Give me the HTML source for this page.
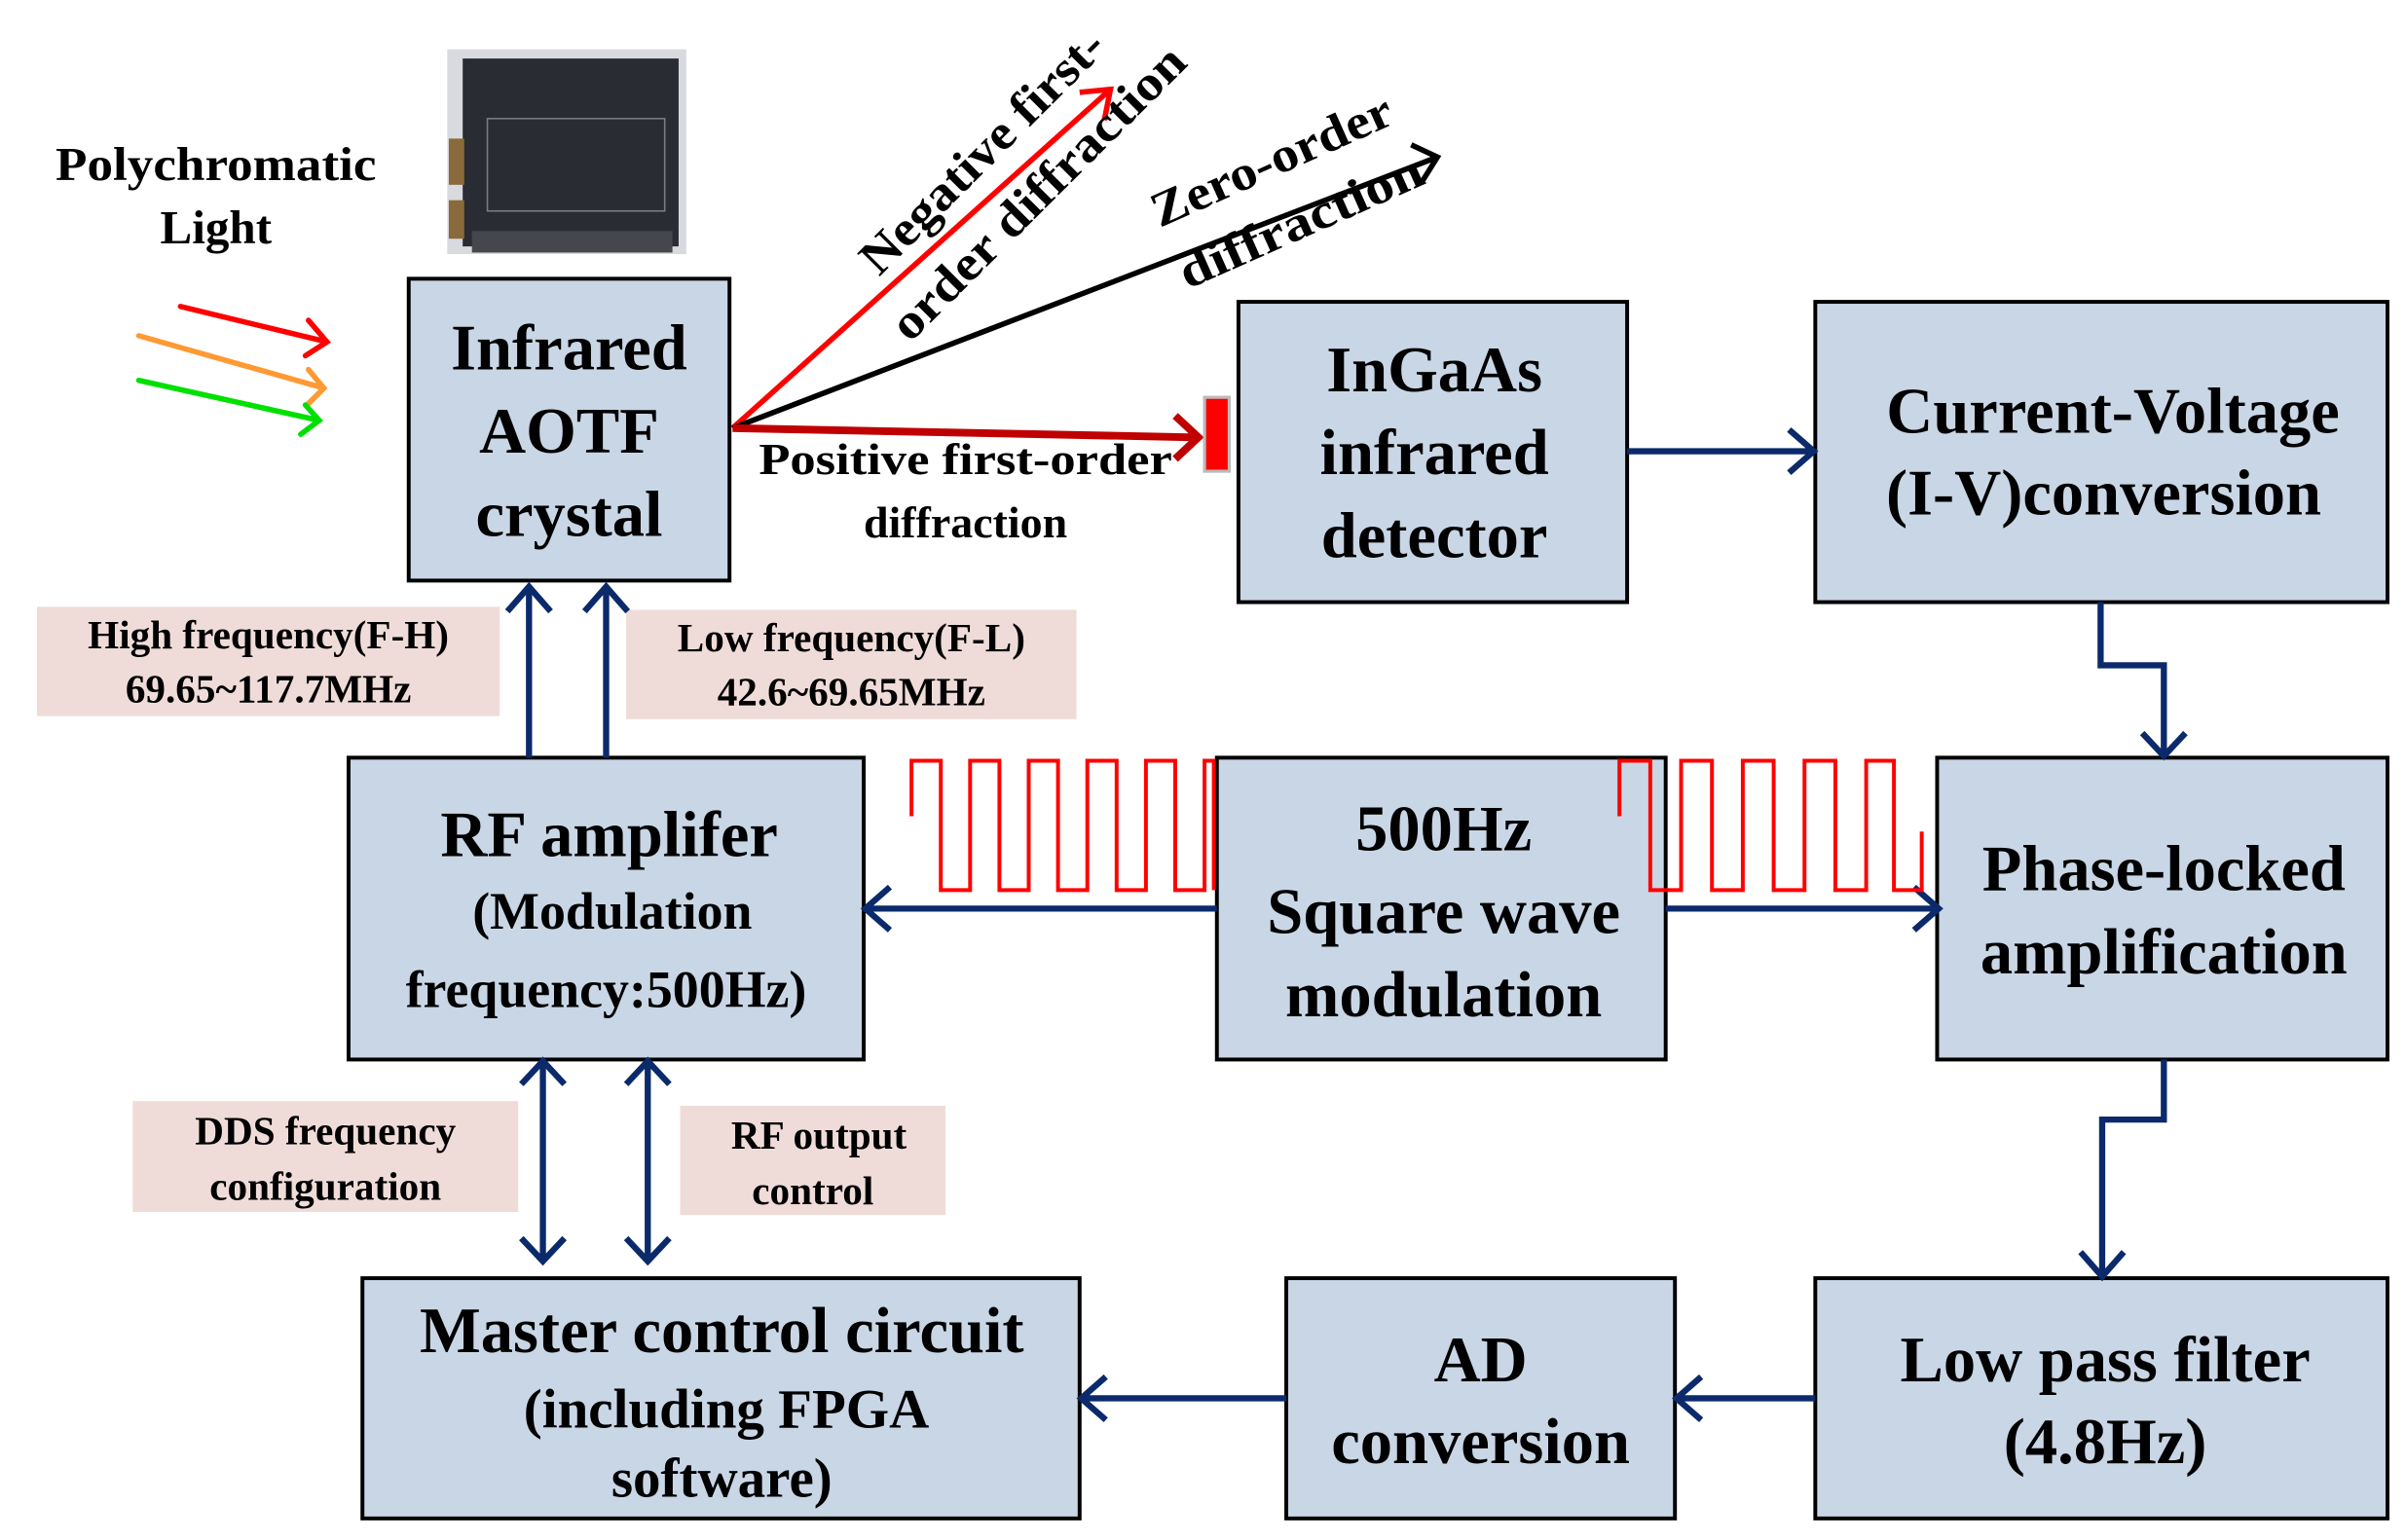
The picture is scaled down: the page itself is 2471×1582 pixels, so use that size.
<!DOCTYPE html>
<html><head><meta charset="utf-8"><style>
html,body{margin:0;padding:0;background:#fff;}
svg{display:block;}
text{font-family:"Liberation Serif",serif;font-weight:bold;fill:#000;}
</style></head><body>
<svg width="2471" height="1582" viewBox="0 0 1560 1000" preserveAspectRatio="none" xmlns="http://www.w3.org/2000/svg">
<style>
.bx{fill:#c9d6e5;stroke:#000;stroke-width:2.5}
.pk{fill:#efdcd8}
.ln{stroke:#0b2a6b;stroke-width:4;fill:none}
.sq{stroke:#ff0000;stroke-width:2.5;fill:none}
</style>
<rect x="290" y="32" width="155" height="133" fill="#d8dadf"/>
<rect x="300" y="38" width="140" height="122" fill="#2a2c34"/>
<rect x="306" y="150" width="130" height="14" fill="#45474d"/>
<rect x="316" y="77" width="115" height="60" fill="none" stroke="#7a7c84" stroke-width="1"/>
<rect x="291" y="90" width="10" height="30" fill="#8a6a3a"/>
<rect x="291" y="130" width="10" height="25" fill="#8a6a3a"/>
<text x="140" y="117" font-size="31" text-anchor="middle" textLength="208" lengthAdjust="spacingAndGlyphs">Polychromatic</text>
<text x="140" y="158" font-size="31" text-anchor="middle">Light</text>
<g stroke-width="3.5" fill="none" stroke-linecap="round">
<path d="M117,199 L212,222 M200,208 L212,222 L198,231" stroke="#ff0000"/>
<path d="M90,218 L210,252 M200,240 L210,252 L200,262" stroke="#ff9933"/>
<path d="M90,247 L207,273 M198,263 L207,273 L195,282" stroke="#00e000"/>
</g>
<rect class="bx" x="265" y="181" width="208" height="196"/>
<text font-size="42" text-anchor="middle"><tspan x="369" y="240">Infrared</tspan><tspan x="369" y="294">AOTF</tspan><tspan x="369" y="348">crystal</tspan></text>
<rect class="bx" x="803" y="196" width="252" height="195"/>
<text font-size="42" text-anchor="middle"><tspan x="930" y="254">InGaAs</tspan><tspan x="930" y="308">infrared</tspan><tspan x="930" y="362">detector</tspan></text>
<rect class="bx" x="1177" y="196" width="371" height="195"/>
<text font-size="42" text-anchor="middle"><tspan x="1370" y="281">Current-Voltage</tspan><tspan x="1364" y="334">(I-V)conversion</tspan></text>
<rect class="bx" x="226" y="492" width="334" height="196"/>
<text text-anchor="middle"><tspan x="395" y="556" font-size="42">RF amplifer</tspan><tspan x="397" y="603" font-size="34">(Modulation</tspan><tspan x="393" y="654" font-size="34">frequency:500Hz)</tspan></text>
<rect class="bx" x="789" y="492" width="291" height="196"/>
<text font-size="42" text-anchor="middle"><tspan x="936" y="552">500Hz</tspan><tspan x="936" y="606">Square wave</tspan><tspan x="936" y="660">modulation</tspan></text>
<rect class="bx" x="1256" y="492" width="292" height="196"/>
<text font-size="42" text-anchor="middle"><tspan x="1403" y="578">Phase-locked</tspan><tspan x="1403" y="632">amplification</tspan></text>
<rect class="bx" x="235" y="830" width="465" height="156"/>
<text text-anchor="middle"><tspan x="468" y="878" font-size="42">Master control circuit</tspan><tspan x="471" y="927" font-size="36">(including FPGA</tspan><tspan x="468" y="972" font-size="36">software)</tspan></text>
<rect class="bx" x="834" y="830" width="252" height="156"/>
<text font-size="42" text-anchor="middle"><tspan x="960" y="897">AD</tspan><tspan x="960" y="950">conversion</tspan></text>
<rect class="bx" x="1177" y="830" width="371" height="156"/>
<text font-size="42" text-anchor="middle"><tspan x="1365" y="897">Low pass filter</tspan><tspan x="1365" y="950">(4.8Hz)</tspan></text>
<path d="M475,278 L720,58 M700,60 L720,58 L716,78" stroke="#ff0000" stroke-width="3.5" fill="none"/>
<path d="M475,278 L932,102 M915,94 L932,102 L922,118" stroke="#000" stroke-width="3.5" fill="none"/>
<path d="M475,278 L775,284 M762,270 L777,284 L762,298" stroke="#c00000" stroke-width="5" fill="none"/>
<rect x="781" y="258" width="16" height="48" fill="#ff0000" stroke="#bbb" stroke-width="2"/>
<text font-size="32" transform="translate(570,180) rotate(-45)" textLength="210" lengthAdjust="spacingAndGlyphs">Negative first-</text>
<text font-size="32" transform="translate(590,223) rotate(-45)" textLength="256" lengthAdjust="spacingAndGlyphs">order diffraction</text>
<text font-size="32" transform="translate(752,148) rotate(-24)" textLength="168" lengthAdjust="spacingAndGlyphs">Zero-order</text>
<text font-size="32" transform="translate(770,188) rotate(-24)" textLength="170" lengthAdjust="spacingAndGlyphs">diffraction</text>
<text font-size="29" x="626" y="308" text-anchor="middle" textLength="268" lengthAdjust="spacingAndGlyphs">Positive first-order</text>
<text font-size="29" x="626" y="349" text-anchor="middle">diffraction</text>
<rect class="pk" x="24" y="394" width="300" height="71"/>
<text font-size="26" text-anchor="middle"><tspan x="174" y="421">High frequency(F-H)</tspan><tspan x="174" y="456">69.65~117.7MHz</tspan></text>
<rect class="pk" x="406" y="396" width="292" height="71"/>
<text font-size="26" text-anchor="middle"><tspan x="552" y="423">Low frequency(F-L)</tspan><tspan x="552" y="458">42.6~69.65MHz</tspan></text>
<rect class="pk" x="86" y="715" width="250" height="72"/>
<text font-size="26" text-anchor="middle"><tspan x="211" y="743">DDS frequency</tspan><tspan x="211" y="779">configuration</tspan></text>
<rect class="pk" x="441" y="718" width="172" height="71"/>
<text font-size="26" text-anchor="middle"><tspan x="531" y="746">RF output</tspan><tspan x="527" y="782">control</tspan></text>
<g class="ln">
<path d="M1055,293 L1175,293 M1160,279 L1176,293 L1160,307"/>
<path d="M1362,391 L1362,432 L1403,432 L1403,490 M1389,476 L1403,491 L1417,476"/>
<path d="M1403,688 L1403,727 L1363,727 L1363,828 M1349,813 L1363,829 L1377,813"/>
<path d="M1177,908 L1088,908 M1103,894 L1087,908 L1103,922"/>
<path d="M834,908 L702,908 M717,894 L701,908 L717,922"/>
<path d="M789,590 L562,590 M577,576 L561,590 L577,604"/>
<path d="M1080,590 L1256,590 M1241,576 L1257,590 L1241,604"/>
<path d="M343,492 L343,382 M329,397 L343,381 L357,397"/>
<path d="M393,492 L393,382 M379,397 L393,381 L407,397"/>
<path d="M352,690 L352,818 M338,704 L352,689 L366,704 M338,804 L352,819 L366,804"/>
<path d="M420,690 L420,818 M406,704 L420,689 L434,704 M406,804 L420,819 L434,804"/>
</g>
<path class="sq" d="M591,530 L591,494 L610,494 L610,578 L629,578 L629,494 L648,494 L648,578 L667,578 L667,494 L686,494 L686,578 L705,578 L705,494 L724,494 L724,578 L743,578 L743,494 L762,494 L762,578 L781,578 L781,494 L787,494 L787,578"/>
<path class="sq" d="M1050,530 L1050,494 L1070,494 L1070,578 L1090,578 L1090,494 L1110,494 L1110,578 L1130,578 L1130,494 L1150,494 L1150,578 L1170,578 L1170,494 L1190,494 L1190,578 L1210,578 L1210,494 L1228,494 L1228,578 L1246,578 L1246,540"/>
</svg>
</body></html>
